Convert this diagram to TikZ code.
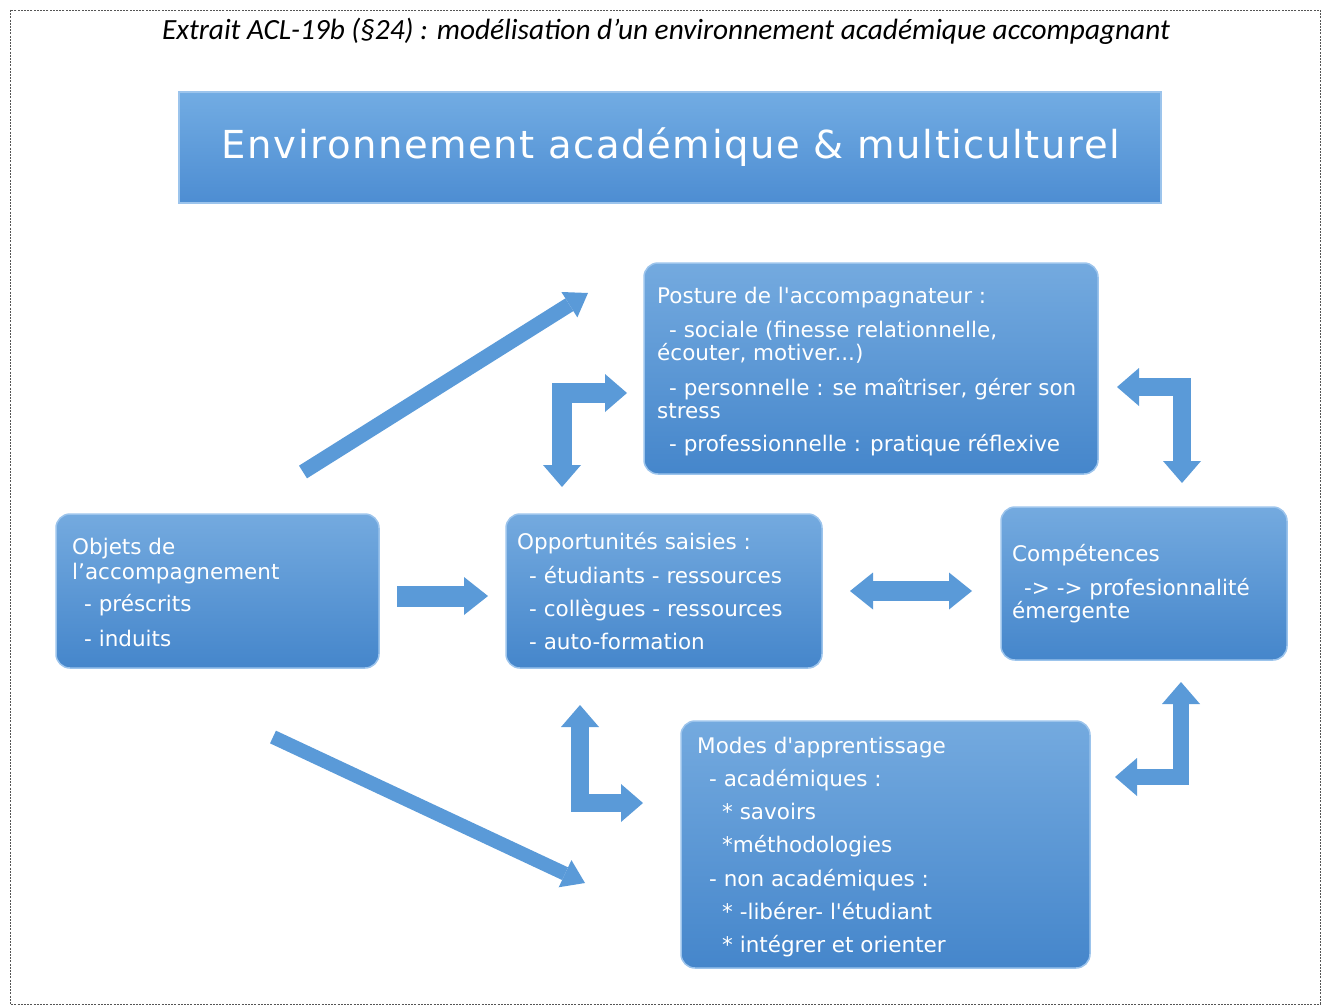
\documentclass[tikz,border=0pt]{standalone}
\usepackage{fontspec}
\usetikzlibrary{arrows.meta,calc}
\setmainfont{Open Sans}
\newfontfamily\titlefam{Carlito}
\newfontfamily\bannerfam[LetterSpace=4]{DejaVu Sans}
\newfontfamily\boxfam{DejaVu Sans}
\definecolor{boxtop}{HTML}{74AADF}
\definecolor{boxbot}{HTML}{4586CB}
\definecolor{boxedge}{HTML}{9CC4EC}
\definecolor{bantop}{HTML}{72ACE3}
\definecolor{banbot}{HTML}{4D8DD2}
\definecolor{arrowblue}{HTML}{5A9AD8}
\definecolor{framegray}{HTML}{555555}
\begin{document}
\begin{tikzpicture}[x=1pt,y=-1pt,
  box/.style={rectangle, rounded corners=14pt, top color=boxtop, bottom color=boxbot,
    draw=boxedge, line width=1.5pt, inner sep=0pt},
  banner/.style={rectangle, top color=bantop, bottom color=banbot,
    draw=boxedge, line width=1.5pt, inner sep=0pt},
  txt/.style={anchor=north west, inner sep=0pt, align=left, text=white,
    font=\boxfam\fontsize{21.5}{23}\selectfont},
  barrow/.style={draw=arrowblue, line width=#1, line join=miter},
  tipA/.tip={Triangle[width=38pt,length=22pt,line width=0pt]},
  tipB/.tip={Triangle[width=30pt,length=22pt,line width=0pt]},
]
\useasboundingbox (0,0) rectangle (1322,1006);
\draw[framegray, line width=0.8pt, dash pattern=on 2pt off 1.2pt] (10,10) rectangle (1320,1004);

% title
\node[inner sep=0pt] (title) at (666,31)
  {\resizebox{1008pt}{!}{\titlefam\itshape\fontsize{26}{30}\selectfont Extrait ACL-19b (§24) : modélisation d’un environnement académique accompagnant}};

% banner
\node[banner, minimum width=982pt, minimum height=111pt] (banner) at (670,147.5) {};
\node[inner sep=0pt, text=white] (bannertxt) at (671,147)
  {\resizebox{898pt}{!}{\bannerfam\fontsize{30}{34}\selectfont Environnement académique \& multiculturel}};

% boxes
\node[box, minimum width=454pt, minimum height=211pt] (posture) at (871,368.5) {};
\node[box, minimum width=323pt, minimum height=154pt] (objets) at (217.5,591) {};
\node[box, minimum width=316pt, minimum height=154pt] (opport) at (664,591) {};
\node[box, minimum width=286pt, minimum height=153pt] (compet) at (1144,583.5) {};
\node[box, minimum width=409pt, minimum height=247pt] (modes) at (885.5,844.5) {};

% texts
\node[txt] (posturetxt) at (657,286.5) {Posture de l'accompagnateur :\\[11pt]
\hspace*{12pt}- sociale (finesse relationnelle,\\
écouter, motiver...)\\[12pt]
\hspace*{12pt}- personnelle : se maîtriser, gérer son\\
stress\\[10pt]
\hspace*{12pt}- professionnelle : pratique réflexive};

\node[txt] (objetstxt) at (72,537.5) {Objets de\\[2pt]
l’accompagnement\\[9pt]
\hspace*{12pt}- préscrits\\[12pt]
\hspace*{12pt}- induits};

\node[txt] (opporttxt) at (517,532.5) {Opportunités saisies :\\[10.3pt]
\hspace*{12pt}- étudiants - ressources\\[10.3pt]
\hspace*{12pt}- collègues - ressources\\[10.3pt]
\hspace*{12pt}- auto-formation};

\node[txt] (competxt) at (1012,544.5) {Compétences\\[11pt]
\hspace*{12pt}-> -> profesionnalité\\
émergente};

\node[txt] (modestxt) at (697,736.5) {Modes d'apprentissage\\[10.3pt]
\hspace*{12pt}- académiques :\\[10.3pt]
\hspace*{25pt}* savoirs\\[10.3pt]
\hspace*{25pt}*méthodologies\\[10.3pt]
\hspace*{12pt}- non académiques :\\[10.3pt]
\hspace*{25pt}* -libérer- l'étudiant\\[10.3pt]
\hspace*{25pt}* intégrer et orienter};

% arrow end points
\coordinate (dupS) at (303,472);  \coordinate (dupE) at (588,293);
\coordinate (ddnS) at (273,737);  \coordinate (ddnE) at (585,883);
\coordinate (rS) at (397,596);    \coordinate (rE) at (488,596);
\coordinate (dbS) at (850,591);   \coordinate (dbE) at (972,591);
\coordinate (tlS) at (562,487);   \coordinate (tlC) at (562,393);  \coordinate (tlE) at (627,393);
\coordinate (trS) at (1117,387);  \coordinate (trC) at (1182,387); \coordinate (trE) at (1182,483);
\coordinate (blS) at (580,705);   \coordinate (blC) at (580,803);  \coordinate (blE) at (643,803);
\coordinate (brS) at (1181,682);  \coordinate (brC) at (1181,777); \coordinate (brE) at (1115,777);

% arrows
\draw[barrow=15pt, -tipB] (dupS) -- (dupE);
\draw[barrow=14pt, -tipB] (ddnS) -- (ddnE);
\draw[barrow=21pt, -{Triangle[width=38pt,length=24pt,line width=0pt]}] (rS) -- (rE);
\draw[barrow=20pt, {Triangle[width=37pt,length=23pt,line width=0pt]}-{Triangle[width=37pt,length=23pt,line width=0pt]}] (dbS) -- (dbE);
\draw[barrow=20pt, tipA-tipA] (tlS) -- (tlC) -- (tlE);
\draw[barrow=18pt, tipA-tipA] (trS) -- (trC) -- (trE);
\draw[barrow=18pt, tipA-tipA] (blS) -- (blC) -- (blE);
\draw[barrow=16pt, tipA-tipA] (brS) -- (brC) -- (brE);
\end{tikzpicture}
\end{document}
